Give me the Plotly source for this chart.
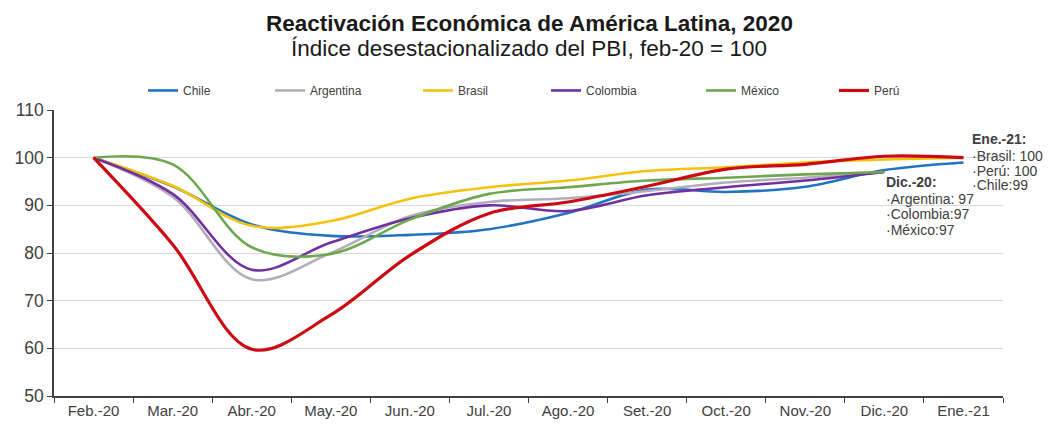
import plotly.graph_objects as go

# Monthly seasonally-adjusted GDP index (feb-20 = 100)
months = ["Feb.-20", "Mar.-20", "Abr.-20", "May.-20", "Jun.-20", "Jul.-20",
          "Ago.-20", "Set.-20", "Oct.-20", "Nov.-20", "Dic.-20", "Ene.-21"]

chile = [100, 94.0, 86.0, 83.6, 83.8, 85.0, 88.4, 93.3, 92.8, 93.9, 97.4, 99]
argentina = [100, 91.8, 74.5, 80.0, 87.7, 90.7, 91.5, 93.0, 94.8, 95.8, 97, None]
brasil = [100, 94.1, 85.7, 86.7, 91.4, 93.8, 95.2, 97.2, 98.0, 99.0, 99.6, 100]
colombia = [100, 92.4, 76.5, 82.2, 87.3, 90.0, 88.8, 92.1, 93.8, 95.2, 97, None]
mexico = [100, 98.6, 81.2, 79.8, 87.0, 92.4, 93.8, 95.2, 95.8, 96.5, 97, None]
peru = [100, 81.8, 59.8, 67.0, 79.5, 88.3, 90.7, 94.0, 97.6, 98.6, 100.3, 100]

# name, values, colour, line width, legend entry left edge (px)
series = [
    ("Chile", chile, "#2273C3", 2.6, 143),
    ("Argentina", argentina, "#B3ACBA", 2.6, 270),
    ("Brasil", brasil, "#F4C20D", 2.6, 418),
    ("Colombia", colombia, "#7030A0", 2.6, 546),
    ("México", mexico, "#6DA84F", 2.6, 701),
    ("Perú", peru, "#CC0A14", 3.2, 834),
]

font_family = "Liberation Sans, Arial, sans-serif"
text_color = "#404040"

PLOT_L, PLOT_R, PLOT_T, PLOT_B = 54, 1003, 110, 403
PLOT_W, PLOT_H = PLOT_R - PLOT_L, PLOT_B - PLOT_T


def px_to_paper(px_x, px_y):
    return (px_x - PLOT_L) / PLOT_W, (PLOT_B - px_y) / PLOT_H


fig = go.Figure()
legend_layouts = {}
for i, (name, vals, color, width, leg_x) in enumerate(series, start=1):
    leg_key = "legend" if i == 1 else f"legend{i}"
    fig.add_trace(go.Scatter(
        x=months, y=vals, name=name, mode="lines",
        line=dict(color=color, width=width, shape="spline", smoothing=1.0),
        connectgaps=False, legend=leg_key,
    ))
    lx, ly = px_to_paper(leg_x, 90)
    legend_layouts[leg_key] = dict(
        orientation="h", x=lx, y=ly, xanchor="left", yanchor="middle",
        font=dict(size=12, color=text_color, family=font_family),
        itemwidth=30, bgcolor="rgba(0,0,0,0)",
    )

fig.update_layout(
    width=1049, height=431,
    margin=dict(l=PLOT_L, r=1049 - PLOT_R, t=PLOT_T, b=431 - PLOT_B),
    paper_bgcolor="white", plot_bgcolor="white",
    font=dict(family=font_family, color=text_color, size=13),
    showlegend=True,
    xaxis=dict(
        type="category", range=[-0.5, 11.5], showgrid=False,
        showline=True, linecolor="#404040", linewidth=1.5,
        ticks="outside", ticklen=5, tickcolor="#404040", tickson="boundaries",
        tickfont=dict(size=15, color=text_color),
    ),
    yaxis=dict(
        range=[50, 110], dtick=10, tick0=50,
        showgrid=True, gridcolor="#D9D9D9", gridwidth=1,
        showline=True, linecolor="#404040", linewidth=1.5,
        ticks="outside", ticklen=5, tickcolor="#404040",
        tickfont=dict(size=17.5, color=text_color), zeroline=False,
    ),
    **legend_layouts,
)

# Title and subtitle
fig.add_annotation(
    text="<b>Reactivación Económica de América Latina, 2020</b>",
    xref="paper", yref="paper", x=(529 - PLOT_L) / PLOT_W, y=px_to_paper(0, 21)[1],
    xanchor="center", yanchor="middle", showarrow=False,
    font=dict(size=22.5, color="#1a1a1a", family=font_family),
)
fig.add_annotation(
    text="Índice desestacionalizado del PBI, feb-20 = 100",
    xref="paper", yref="paper", x=(529 - PLOT_L) / PLOT_W, y=px_to_paper(0, 47)[1],
    xanchor="center", yanchor="middle", showarrow=False,
    font=dict(size=22.5, color="#1a1a1a", family=font_family),
)

# Latest-value notes beside the curves
notes = [
    ("<b>Ene.-21:</b>", 970, 140),
    ("·Brasil: 100", 970, 157),
    ("·Perú: 100", 970, 172),
    ("·Chile:99", 970, 187),
    ("<b>Dic.-20:</b>", 884, 184),
    ("·Argentina: 97", 884, 201),
    ("·Colombia:97", 884, 217),
    ("·México:97", 884, 233),
]
for txt, nx, ny in notes:
    px, py = px_to_paper(nx, ny)
    fig.add_annotation(
        text=txt, xref="paper", yref="paper", x=px, y=py,
        xanchor="left", yanchor="middle", showarrow=False,
        font=dict(size=14, color=text_color, family=font_family),
    )

fig.write_html("out.html")
